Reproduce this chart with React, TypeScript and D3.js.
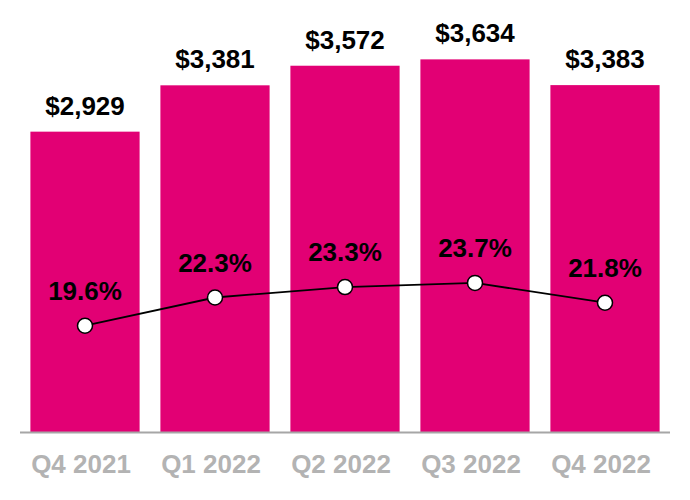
import React from "react";
import * as d3 from "d3";

const categories = ["Q4 2021", "Q1 2022", "Q2 2022", "Q3 2022", "Q4 2022"];
const revenue = [2929, 3381, 3572, 3634, 3383];
const margin = [19.6, 22.3, 23.3, 23.7, 21.8];

const W = 690;
const H = 500;
const FONT = "'Liberation Sans', Arial, Helvetica, sans-serif";

export default function App() {
  const x = d3.scaleBand<string>().domain(categories).range([20, 670]).paddingInner(0.16).paddingOuter(0.08);
  const yBar = d3.scaleLinear().domain([0, 4213]).range([432, 0]);
  const yPct = d3.scaleLinear().domain([9.43, 50.77]).range([432, 0]);
  const cx = (c: string) => (x(c) as number) + x.bandwidth() / 2;

  const pts: [number, number][] = categories.map((c, i) => [cx(c), yPct(margin[i])]);
  const line = d3.line().curve(d3.curveLinear)(pts) || "";

  return (
    <svg width={W} height={H} style={{ position: "absolute", left: 0, top: 0, background: "#fff" }} fontFamily={FONT}>
      {categories.map((c, i) => (
        <rect key={c} x={x(c)} y={yBar(revenue[i])} width={x.bandwidth()} height={yBar(0) - yBar(revenue[i])} fill="#E20074" />
      ))}
      <line x1={20} x2={670} y1={432.5} y2={432.5} stroke="#A6A6A6" strokeWidth={1.8} />
      {categories.map((c, i) => (
        <text key={"v" + c} x={cx(c)} y={yBar(revenue[i]) - 17} textAnchor="middle" fontSize={26} fontWeight="bold" fill="#000">
          {"$" + d3.format(",")(revenue[i])}
        </text>
      ))}
      <path d={line} fill="none" stroke="#000" strokeWidth={1.8} />
      {categories.map((c, i) => (
        <circle key={"p" + c} cx={cx(c)} cy={yPct(margin[i])} r={7.5} fill="#fff" stroke="#000" strokeWidth={1.5} />
      ))}
      {categories.map((c, i) => (
        <text key={"m" + c} x={cx(c)} y={yPct(margin[i]) - 26} textAnchor="middle" fontSize={26} fontWeight="bold" fill="#000">
          {margin[i].toFixed(1) + "%"}
        </text>
      ))}
      {categories.map((c) => (
        <text key={"t" + c} x={cx(c) - 4} y={473} textAnchor="middle" fontSize={26} fontWeight="bold" fill="#B3B3B3">
          {c}
        </text>
      ))}
    </svg>
  );
}
